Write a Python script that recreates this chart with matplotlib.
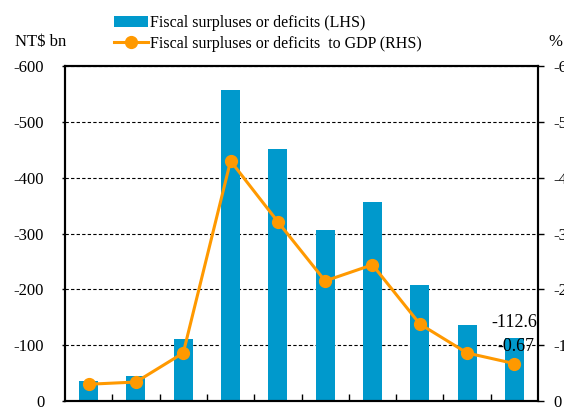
import matplotlib.pyplot as plt
import matplotlib as mpl
import numpy as np

mpl.rcParams['font.family'] = 'Liberation Serif'
mpl.rcParams['axes.unicode_minus'] = False

# data (deficits are negative)
years = ["1", "2", "3", "4", "5", "6", "7", "8", "9", "10"]
balance = [-36, -45, -111, -557, -451, -306, -357, -208, -136, -112.6]
balance_gdp = [-0.30, -0.34, -0.86, -4.30, -3.21, -2.15, -2.44, -1.38, -0.86, -0.67]

bar_color = '#0099CC'
line_color = '#FF9900'

fig = plt.figure(figsize=(5.64, 4.07), dpi=100)
ax = fig.add_axes([65/564, 6/407, 473/564, 335/407])
ax2 = ax.twinx()

x = np.arange(len(years))
bars = ax.bar(x, balance, width=0.4, color=bar_color, zorder=2,
              label='Fiscal surpluses or deficits (LHS)')
line, = ax2.plot(x, balance_gdp, color=line_color, lw=2.2, marker='o', ms=8.5,
                 label='Fiscal surpluses or deficits  to GDP (RHS)')

ax.set_xlim(-0.5, len(years) - 0.5)
ax.set_ylim(0, -600)
ax2.set_ylim(0, -6)
ax.set_yticks(np.arange(0, -601, -100))
ax2.set_yticks(np.arange(0, -7, -1))
ax.yaxis.grid(True, linestyle='--', color='black', lw=0.8, dashes=(3, 2))
ax.set_axisbelow(True)

ax.set_xticks(x[:-1] + 0.5)
ax.set_xticklabels([])
ax.tick_params(axis='x', direction='in', length=5, width=1)
ax.tick_params(axis='y', direction='out', length=2, width=1, labelsize=12, pad=13)
ax2.tick_params(axis='y', direction='out', length=4, width=1, labelsize=12, pad=7)
for a in (ax, ax2):
    for s in a.spines.values():
        s.set_linewidth(1.5)

ax.annotate('-112.6', (x[-1], balance[-1]), xytext=(0, 11), textcoords='offset points',
            ha='center', va='center', fontsize=13)
ax2.annotate('-0.67', (x[-1], balance_gdp[-1]), xytext=(1, 12), textcoords='offset points',
             ha='center', va='center', fontsize=13)

fig.text(15/564, 1 - 42/407, 'NT$ bn', fontsize=12, va='center', ha='left')
fig.text(548/564, 1 - 42/407, '%', fontsize=12, va='center', ha='left')

fig.legend(handles=[bars, line], loc='upper left', bbox_to_anchor=(106/564, 1 - 7/407),
           frameon=False, fontsize=11.5, handlelength=2.1, handletextpad=0.15,
           labelspacing=0.3, borderpad=0)

fig.savefig('out.png', dpi=100)
